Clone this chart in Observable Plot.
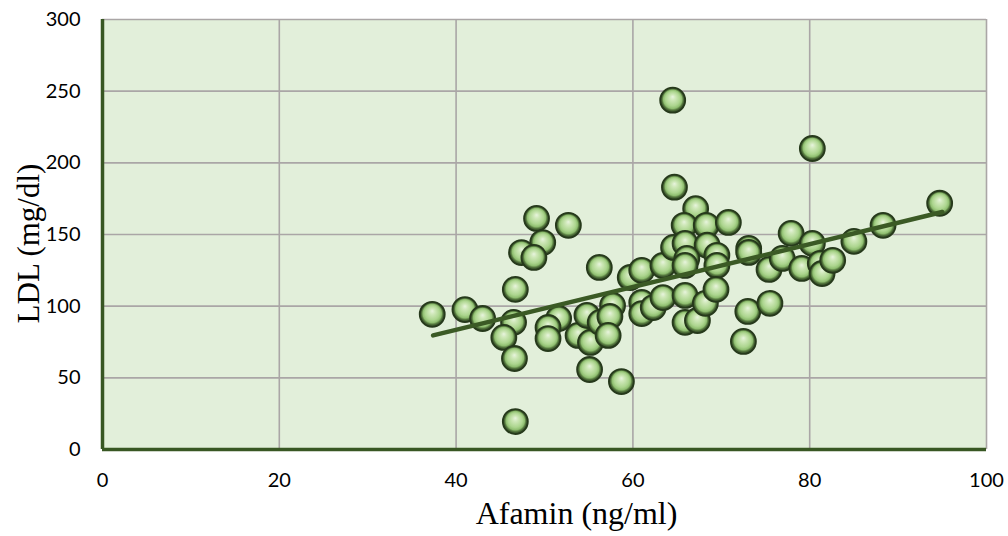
<!DOCTYPE html>
<html>
<head>
<meta charset="utf-8">
<script src="https://cdn.jsdelivr.net/npm/d3@7"></script>
<script src="https://cdn.jsdelivr.net/npm/@observablehq/plot@0.6"></script>
<style>
  html, body { margin: 0; padding: 0; background: #ffffff; }
  #chart svg { display: block; }
</style>
</head>
<body>
<div id="chart"></div>
<script>
// Afamin (ng/ml) vs LDL (mg/dl)
const afamin = [37.3, 41.0, 43.0, 46.5, 45.4, 46.6, 46.7, 46.7, 49.1, 52.7,
                49.8, 47.4, 48.8, 56.2, 51.6, 50.4, 50.4, 53.8, 55.2, 54.8,
                56.3, 57.7, 57.4, 57.2, 55.1, 58.7, 59.7, 61.0, 63.4, 61.0,
                61.0, 62.3, 63.4, 65.9, 65.9, 67.3, 68.2, 64.5, 64.7, 67.1,
                65.8, 68.3, 70.8, 64.6, 65.9, 68.4, 69.5, 66.1, 69.5, 69.4,
                73.1, 73.1, 73.0, 72.5, 75.5, 75.4, 76.9, 77.9, 80.3, 79.1,
                81.2, 81.4, 82.6, 85.0, 88.3, 94.7, 80.3, 65.9];
const ldl = [94.3, 97.6, 91.4, 88.7, 78.2, 63.5, 111.7, 19.5, 161.2, 156.4,
             144.4, 137.4, 134.0, 127.0, 91.4, 85.1, 77.4, 79.6, 74.7, 93.6,
             88.7, 100.5, 92.8, 79.6, 55.8, 47.4, 120.0, 125.0, 128.4, 102.6,
             94.8, 99.0, 106.0, 107.5, 88.7, 90.0, 102.0, 243.7, 183.0, 168.0,
             156.4, 156.4, 158.4, 141.0, 143.8, 142.5, 135.5, 133.3, 128.4, 111.7,
             140.3, 137.5, 96.3, 75.4, 102.0, 125.6, 133.3, 150.8, 143.8, 126.3,
             129.8, 122.8, 132.0, 145.2, 156.4, 171.8, 210.0, 128.4];
// linear trend line endpoints
const trendX = [37.4, 95.0];
const trendY = [79.6, 165.7];
const xTicks = [0, 20, 40, 60, 80, 100];
const yTicks = [0, 50, 100, 150, 200, 250, 300];
const xTitle = "Afamin (ng/ml)";
const yTitle = "LDL (mg/dl)";

const points = afamin.map((a, i) => ({x: a, y: ldl[i]}));
const trend = trendX.map((a, i) => ({x: a, y: trendY[i]}));

const tickFont = "Lato, 'Liberation Sans', sans-serif";
const titleFont = "'Liberation Serif', 'DejaVu Serif', serif";

const chart = Plot.plot({
  width: 1008,
  height: 536,
  marginLeft: 102,
  marginRight: 22,
  marginTop: 19,
  marginBottom: 87,
  x: {domain: [0, 100]},
  y: {domain: [0, 300]},
  style: {background: "#ffffff", color: "#000000", fontFamily: tickFont},
  marks: [
    Plot.frame({fill: "#e2efda", stroke: null}),
    Plot.gridX(xTicks, {stroke: "#aaa6a6", strokeOpacity: 1, strokeWidth: 1.6}),
    Plot.gridY(yTicks, {stroke: "#aaa6a6", strokeOpacity: 1, strokeWidth: 1.6}),
    Plot.axisX(xTicks, {tickSize: 0, tickPadding: 23, fontSize: 20, label: null, fill: "#000"}),
    Plot.axisY(yTicks, {tickSize: 0, tickPadding: 22, fontSize: 20, label: null, fill: "#000"}),
    Plot.ruleX([0], {stroke: "#385723", strokeWidth: 3.5}),
    Plot.ruleY([0], {stroke: "#385723", strokeWidth: 3.5}),
    Plot.dot(points, {x: "x", y: "y", r: 12.5, fill: "url(#ball)", stroke: "#26391b", strokeWidth: 1.8}),
    Plot.line(trend, {x: "x", y: "y", stroke: "#3b5a25", strokeWidth: 4.5, strokeLinecap: "round"}),
    Plot.text([xTitle], {frameAnchor: "bottom", textAnchor: "middle", dx: 32, dy: 74, fontSize: 32, fontFamily: titleFont, fill: "#000"}),
    Plot.text([yTitle], {frameAnchor: "left", textAnchor: "middle", dx: -73, dy: 9, rotate: -90, fontSize: 31, fontFamily: titleFont, fill: "#000"})
  ]
});

chart.insertAdjacentHTML("afterbegin",
  `<defs>
     <radialGradient id="ball" cx="50%" cy="50%" r="50%" fx="50%" fy="36%">
       <stop offset="0%" stop-color="#e8f4de"/>
       <stop offset="22%" stop-color="#cfe8b9"/>
       <stop offset="58%" stop-color="#acd58e"/>
       <stop offset="74%" stop-color="#8fbe70"/>
       <stop offset="84%" stop-color="#55783e"/>
       <stop offset="100%" stop-color="#22341a"/>
     </radialGradient>
   </defs>`);

document.getElementById("chart").appendChild(chart);
</script>
</body>
</html>
